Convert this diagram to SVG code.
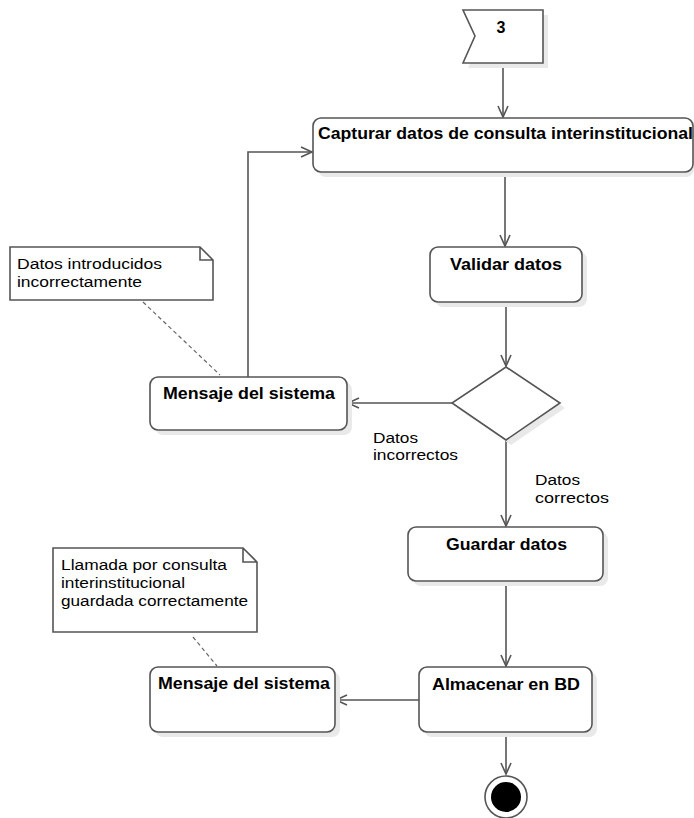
<svg xmlns="http://www.w3.org/2000/svg" width="694" height="818" viewBox="0 0 694 818">
<style>
.bg{fill:#ffffff}
.node{fill:#ffffff;stroke:#555555;stroke-width:1.6}
.shadow{fill:#e9e9e9;stroke:none}
.line{fill:none;stroke:#555555;stroke-width:1.6}
.dash{fill:none;stroke:#666666;stroke-width:1.2;stroke-dasharray:4,3}
.t{font-family:"Liberation Sans",Arial,sans-serif;font-weight:bold;font-size:16px;fill:#000000}
.n{font-family:"Liberation Sans",Arial,sans-serif;font-size:15.5px;fill:#000000}
</style>
<defs>
<marker id="arr" markerWidth="14" markerHeight="14" refX="12" refY="6" orient="auto" markerUnits="userSpaceOnUse">
<path d="M1,1 L12,6 L1,11" fill="none" stroke="#555555" stroke-width="1.6"/>
</marker>
</defs>
<rect class="bg" x="0" y="0" width="694" height="818"/>

<g id="connectors">
<line class="line" x1="503" y1="63" x2="503" y2="117" marker-end="url(#arr)"/>
<line class="line" x1="505" y1="172" x2="505" y2="246" marker-end="url(#arr)"/>
<line class="line" x1="506" y1="302" x2="506" y2="366" marker-end="url(#arr)"/>
<line class="line" x1="452" y1="403" x2="348" y2="403" marker-end="url(#arr)"/>
<polyline class="line" points="248,377 248,152 312,152" marker-end="url(#arr)"/>
<line class="line" x1="506" y1="440" x2="506" y2="526" marker-end="url(#arr)"/>
<line class="line" x1="506" y1="581" x2="506" y2="666" marker-end="url(#arr)"/>
<line class="line" x1="419" y1="700" x2="336" y2="700" marker-end="url(#arr)"/>
<line class="line" x1="506" y1="732" x2="506" y2="774" marker-end="url(#arr)"/>
<line class="dash" x1="143" y1="302" x2="220" y2="375"/>
<line class="dash" x1="193" y1="637" x2="217" y2="666"/>
</g>

<g id="flag3">
<polygon class="shadow" points="468,15 548,15 548,68 468,68 480,41"/>
<polygon class="node" points="463,10 543,10 543,63 463,63 475,36"/>
<text class="t" x="501" y="33" text-anchor="middle" font-size="17">3</text>
</g>

<g id="capturar">
<rect class="shadow" x="318" y="123" width="376" height="54" rx="8"/>
<rect class="node" x="313" y="118" width="380" height="54" rx="8"/>
<text class="t" x="318" y="139" textLength="375" lengthAdjust="spacingAndGlyphs">Capturar datos de consulta interinstitucional</text>
</g>

<g id="validar">
<rect class="shadow" x="435" y="252" width="152" height="55" rx="8"/>
<rect class="node" x="430" y="247" width="152" height="55" rx="8"/>
<text class="t" x="450" y="270" textLength="112" lengthAdjust="spacingAndGlyphs">Validar datos</text>
</g>

<g id="decision">
<polygon class="shadow" points="511,372 565,408 511,445 457,408"/>
<polygon class="node" points="506,367 560,403 506,440 452,403"/>
</g>

<g id="mensaje1">
<rect class="shadow" x="155" y="382" width="197" height="53" rx="8"/>
<rect class="node" x="150" y="377" width="197" height="53" rx="8"/>
<text class="t" x="163" y="399" textLength="172" lengthAdjust="spacingAndGlyphs">Mensaje del sistema</text>
</g>

<g id="note1">
<path class="node" d="M10,247 L200,247 L213,260 L213,300 L10,300 Z M200,247 L200,260 L213,260"/>
<text class="n" x="17" y="269" textLength="145" lengthAdjust="spacingAndGlyphs">Datos introducidos</text>
<text class="n" x="17" y="287" textLength="125" lengthAdjust="spacingAndGlyphs">incorrectamente</text>
</g>

<g id="labels">
<text class="n" x="373" y="443" textLength="45" lengthAdjust="spacingAndGlyphs">Datos</text>
<text class="n" x="373" y="460" textLength="85" lengthAdjust="spacingAndGlyphs">incorrectos</text>
<text class="n" x="535" y="485" textLength="45" lengthAdjust="spacingAndGlyphs">Datos</text>
<text class="n" x="535" y="503" textLength="74" lengthAdjust="spacingAndGlyphs">correctos</text>
</g>

<g id="guardar">
<rect class="shadow" x="413" y="532" width="195" height="54" rx="8"/>
<rect class="node" x="408" y="527" width="195" height="54" rx="8"/>
<text class="t" x="446" y="550" textLength="121" lengthAdjust="spacingAndGlyphs">Guardar datos</text>
</g>

<g id="almacenar">
<rect class="shadow" x="424" y="672" width="173" height="65" rx="8"/>
<rect class="node" x="419" y="667" width="173" height="65" rx="8"/>
<text class="t" x="432" y="690" textLength="148" lengthAdjust="spacingAndGlyphs">Almacenar en BD</text>
</g>

<g id="mensaje2">
<rect class="shadow" x="155" y="672" width="185" height="65" rx="8"/>
<rect class="node" x="150" y="667" width="185" height="65" rx="8"/>
<text class="t" x="158" y="689" textLength="172" lengthAdjust="spacingAndGlyphs">Mensaje del sistema</text>
</g>

<g id="note2">
<path class="node" d="M53,548 L243,548 L257,562 L257,632 L53,632 Z M243,548 L243,562 L257,562"/>
<text class="n" x="61" y="570" textLength="166" lengthAdjust="spacingAndGlyphs">Llamada por consulta</text>
<text class="n" x="61" y="588" textLength="124" lengthAdjust="spacingAndGlyphs">interinstitucional</text>
<text class="n" x="61" y="606" textLength="187" lengthAdjust="spacingAndGlyphs">guardada correctamente</text>
</g>

<g id="final">
<circle cx="506" cy="797" r="21" fill="#ffffff" stroke="#555555" stroke-width="1.6"/>
<circle cx="506" cy="797" r="15" fill="#000000"/>
</g>
</svg>
